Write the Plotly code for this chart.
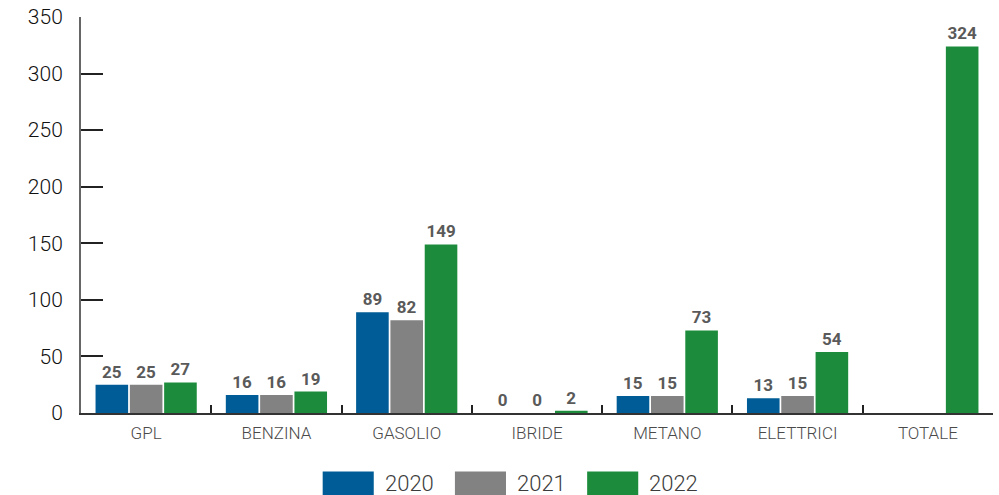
import plotly.graph_objects as go

# Fuel categories and yearly values
categories = ["GPL", "BENZINA", "GASOLIO", "IBRIDE", "METANO", "ELETTRICI", "TOTALE"]
years = ["2020", "2021", "2022"]
values_2020 = [25, 16, 89, 0, 15, 13, None]
values_2021 = [25, 16, 82, 0, 15, 15, None]
values_2022 = [27, 19, 149, 2, 73, 54, 324]
y_ticks = [0, 50, 100, 150, 200, 250, 300, 350]

colors = ["#005c96", "#828282", "#1c8b3b"]
series = [values_2020, values_2021, values_2022]

fig = go.Figure()
for year, vals, col in zip(years, series, colors):
    fig.add_trace(go.Bar(
        x=categories,
        y=vals,
        name=year,
        marker=dict(color=col, line=dict(width=0)),
        text=[str(v) if v is not None else "" for v in vals],
        textposition="outside",
        cliponaxis=False,
        textfont=dict(family="Roboto", size=17, color="#5a5a5a", weight="bold"),
        showlegend=False,
    ))

# hand-made legend with wide colour swatches below the plot
legend_x0 = 0.265
step = 0.145
for i, (year, col) in enumerate(zip(years, colors)):
    x0 = legend_x0 + i * step
    fig.add_shape(type="rect", xref="paper", yref="paper",
                  x0=x0, x1=x0 + 0.056, y0=-0.207, y1=-0.148,
                  fillcolor=col, line=dict(width=0))
    fig.add_annotation(xref="paper", yref="paper", x=x0 + 0.066, y=-0.178,
                       xanchor="left", yanchor="middle", text=year, showarrow=False,
                       font=dict(family="Roboto", size=22, color="#3c3c3c", weight=300))

fig.update_layout(
    width=999, height=495,
    barmode="group",
    bargap=0.21,
    bargroupgap=0.05,
    plot_bgcolor="white",
    paper_bgcolor="white",
    margin=dict(l=81, r=6, t=17, b=82),
    font=dict(family="Roboto", color="#333"),
    showlegend=False,
    xaxis=dict(
        automargin=False,
        showline=True, linecolor="#333", linewidth=2,
        ticks="inside", tickson="boundaries", ticklen=8, tickwidth=2, tickcolor="#222",
        tickfont=dict(size=17, color="#4a4a4a", weight=300),
        ticklabelstandoff=4,
        showgrid=False,
    ),
    yaxis=dict(
        automargin=False,
        range=[0, 350], tickvals=y_ticks,
        showline=True, linecolor="#666", linewidth=2,
        ticks="inside", ticklen=22, tickwidth=1.5, tickcolor="#222",
        tickfont=dict(size=21, color="#111", weight=300),
        ticklabelstandoff=12,
        showgrid=False, zeroline=False,
    ),
)

# drop the default 8px page margin so the figure fills the window exactly
fig.write_html("out.html", config={"displayModeBar": False},
               post_script="document.body.style.margin='0';")
